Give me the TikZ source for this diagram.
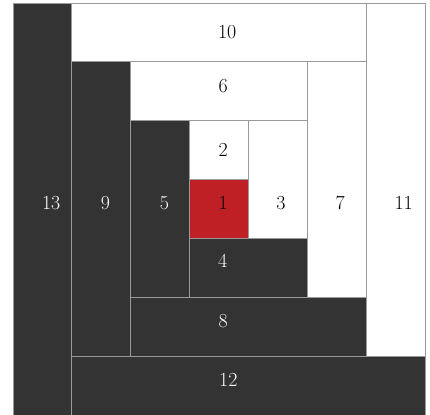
\documentclass[tikz,border=0pt]{standalone}
\definecolor{darkblk}{HTML}{333333}
\definecolor{redblk}{HTML}{BF2026}
\definecolor{edge}{HTML}{9A9A9A}
\newcommand\blk[6]{%
  \node[#6, minimum width={(#4-#2)*58.857bp}, minimum height={(#5-#3)*58.857bp}]
    (#1) at ({(#2+#4)/2},{(#3+#5)/2}) {};}
\begin{document}
\begin{tikzpicture}[x=58.857bp,y=-58.857bp,
  cell/.style={draw=edge, line width=0.9bp, inner sep=0pt, outer sep=0pt},
  darkcell/.style={cell, fill=darkblk},
  lightcell/.style={cell, fill=white},
  redcell/.style={cell, fill=redblk},
  num/.style={anchor=base west, inner sep=0pt, font=\fontsize{20}{24}\selectfont},
  wnum/.style={num, text=white},
  bnum/.style={num, text=black}]
\useasboundingbox[fill=white] (-0.2209,-0.051) rectangle (7.0849,7.0);
\blk{b13}{0}{0}{1}{7}{darkcell}
\blk{b10}{1}{0}{6}{1}{lightcell}
\blk{b11}{6}{0}{7}{6}{lightcell}
\blk{b12}{1}{6}{7}{7}{darkcell}
\blk{b9}{1}{1}{2}{6}{darkcell}
\blk{b6}{2}{1}{5}{2}{lightcell}
\blk{b7}{5}{1}{6}{5}{lightcell}
\blk{b8}{2}{5}{6}{6}{darkcell}
\blk{b5}{2}{2}{3}{5}{darkcell}
\blk{b2}{3}{2}{4}{3}{lightcell}
\blk{b3}{4}{2}{5}{4}{lightcell}
\blk{b4}{3}{4}{5}{5}{darkcell}
\blk{b1}{3}{3}{4}{4}{redcell}
% labels (left edge, baseline)
\node[wnum] (t13) at (0.49,3.5) {13};
\node[wnum] (t9)  at (1.49,3.5) {9};
\node[wnum] (t5)  at (2.49,3.5) {5};
\node[bnum] (t1)  at (3.49,3.5) {1};
\node[bnum] (t3)  at (4.47,3.5) {3};
\node[bnum] (t7)  at (5.48,3.5) {7};
\node[bnum] (t11) at (6.48,3.5) {11};
\node[bnum] (t10) at (3.48,0.6) {10};
\node[bnum] (t6)  at (3.49,1.517) {6};
\node[bnum] (t2)  at (3.49,2.61) {2};
\node[wnum] (t4)  at (3.48,4.5) {4};
\node[wnum] (t8)  at (3.49,5.505) {8};
\node[wnum] (t12) at (3.5,6.52) {12};
\end{tikzpicture}
\end{document}
